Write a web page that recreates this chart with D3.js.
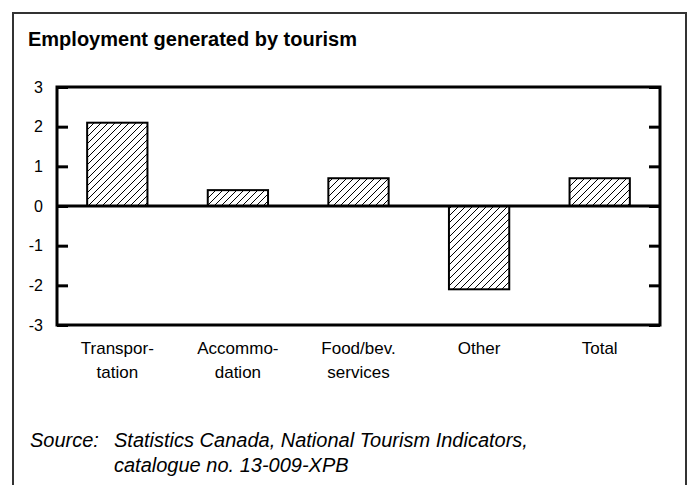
<!DOCTYPE html>
<html>
<head>
<meta charset="utf-8">
<script src="https://cdn.jsdelivr.net/npm/d3@7"></script>
<style>
  body { margin: 0; background: #fff; }
  text { font-family: "Liberation Sans", Arial, sans-serif; fill: #000; }
</style>
</head>
<body>
<div id="chart"></div>
<script>
document.addEventListener("DOMContentLoaded", function() {
    const width = 692;
    const height = 485;
    const plot = { left: 57, right: 660, top: 87, bottom: 325 };

    // data
    const categories = ['Transportation', 'Accommodation', 'Food/bev. services', 'Other', 'Total'];
    const labelLines = [['Transpor-', 'tation'], ['Accommo-', 'dation'], ['Food/bev.', 'services'], ['Other'], ['Total']];
    const values = [2.1, 0.4, 0.7, -2.1, 0.7];
    const yTicks = [-3, -2, -1, 0, 1, 2, 3];

    const svg = d3.select('#chart')
        .append('svg')
        .attr('width', width)
        .attr('height', height);

    // hatch fill
    svg.append('defs')
        .append('pattern')
        .attr('id', 'hatch')
        .attr('patternUnits', 'userSpaceOnUse')
        .attr('width', 7)
        .attr('height', 7)
        .append('path')
        .attr('d', 'M-1,1 l2,-2 M0,7 l7,-7 M6,8 l2,-2')
        .attr('stroke', '#000')
        .attr('stroke-width', 1);

    // outer frame, open at the bottom
    svg.append('path')
        .attr('d', `M13,${height + 2} V13 H686 V${height + 2}`)
        .attr('fill', 'none')
        .attr('stroke', '#333')
        .attr('stroke-width', 2);

    svg.append('text')
        .attr('x', 28)
        .attr('y', 46)
        .style('font-size', '20px')
        .style('font-weight', 'bold')
        .text('Employment generated by tourism');

    const x = d3.scaleBand()
        .domain(categories)
        .range([plot.left, plot.right])
        .paddingInner(0.5)
        .paddingOuter(0.25);

    const y = d3.scaleLinear()
        .domain([-3, 3])
        .range([plot.bottom, plot.top]);

    // bars
    svg.selectAll('.bar')
        .data(values)
        .enter()
        .append('rect')
        .attr('class', 'bar')
        .attr('x', (d, i) => x(categories[i]))
        .attr('width', x.bandwidth())
        .attr('y', d => y(Math.max(d, 0)))
        .attr('height', d => Math.abs(y(d) - y(0)))
        .attr('fill', 'url(#hatch)')
        .attr('stroke', '#000')
        .attr('stroke-width', 2);

    // left axis with inward ticks
    const left = svg.append('g')
        .attr('transform', `translate(${plot.left},0)`)
        .call(d3.axisLeft(y).tickValues(yTicks).tickSizeInner(-11).tickSizeOuter(0).tickPadding(14));
    left.select('.domain').remove();
    left.selectAll('line').attr('stroke', '#000').attr('stroke-width', 3);
    left.selectAll('text')
        .style('font-size', '16px')
        .style('font-family', '"Liberation Sans", Arial, sans-serif')
        .text(d => d);

    const right = svg.append('g')
        .attr('transform', `translate(${plot.right},0)`)
        .call(d3.axisRight(y).tickValues(yTicks).tickSizeInner(-11).tickSizeOuter(0).tickFormat(''));
    right.select('.domain').remove();
    right.selectAll('line').attr('stroke', '#000').attr('stroke-width', 3);

    // zero line
    svg.append('line')
        .attr('x1', plot.left)
        .attr('x2', plot.right)
        .attr('y1', y(0))
        .attr('y2', y(0))
        .attr('stroke', '#000')
        .attr('stroke-width', 3);

    // plot border
    svg.append('rect')
        .attr('x', plot.left)
        .attr('y', plot.top)
        .attr('width', plot.right - plot.left)
        .attr('height', plot.bottom - plot.top)
        .attr('fill', 'none')
        .attr('stroke', '#000')
        .attr('stroke-width', 3);

    // category labels
    categories.forEach((c, i) => {
        const t = svg.append('text')
            .attr('text-anchor', 'middle')
            .style('font-size', '17px');
        labelLines[i].forEach((line, j) => {
            t.append('tspan')
                .attr('x', x(c) + x.bandwidth() / 2)
                .attr('y', 354 + j * 24)
                .text(line);
        });
    });

    // source note
    const note = svg.append('g').style('font-style', 'italic').style('font-size', '20px');
    note.append('text').attr('x', 30).attr('y', 447).text('Source:');
    note.append('text').attr('x', 114).attr('y', 447).text('Statistics Canada, National Tourism Indicators,');
    note.append('text').attr('x', 114).attr('y', 472).text('catalogue no. 13-009-XPB');
});
</script>
</body>
</html>
